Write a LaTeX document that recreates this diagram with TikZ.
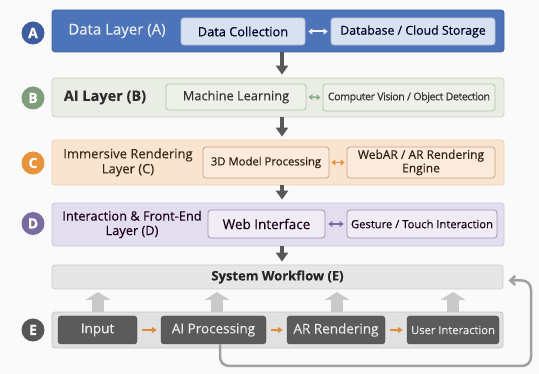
\documentclass[tikz,border=0pt]{standalone}
\usepackage{fontspec}
\setmainfont{Open Sans}[FakeBold=0.3]
\newfontfamily\medf{Open Sans}[FakeBold=0.35]
\usetikzlibrary{arrows.meta,calc}
\definecolor{bgc}{HTML}{FAFAFA}
\definecolor{aband}{HTML}{4D74B9}
\definecolor{aborder}{HTML}{3F62A3}
\definecolor{abox}{HTML}{D8E1F2}
\definecolor{acirc}{HTML}{3D5D9E}
\definecolor{bband}{HTML}{E9EDE5}
\definecolor{bborder}{HTML}{CDD5C6}
\definecolor{bbox}{HTML}{EEF1EA}
\definecolor{bboxb}{HTML}{B5BFAD}
\definecolor{bcirc}{HTML}{7E9E7A}
\definecolor{cband}{HTML}{F8E4D0}
\definecolor{cborder}{HTML}{EDCFB2}
\definecolor{cbox}{HTML}{FBEBDC}
\definecolor{cboxb}{HTML}{C9A284}
\definecolor{ccirc}{HTML}{E8923B}
\definecolor{dband}{HTML}{E3DEEE}
\definecolor{dborder}{HTML}{CBC3DD}
\definecolor{dbox}{HTML}{EFECF5}
\definecolor{dboxb}{HTML}{9A92B2}
\definecolor{dcirc}{HTML}{7A6BA0}
\definecolor{swc}{HTML}{E6E6E6}
\definecolor{swb}{HTML}{CDCDCD}
\definecolor{eband}{HTML}{E1E1E1}
\definecolor{eborder}{HTML}{C4C4C4}
\definecolor{ebox}{HTML}{5B5B5B}
\definecolor{ecirc}{HTML}{565656}
\definecolor{darr}{HTML}{585858}
\definecolor{uparr}{HTML}{C9C9C9}
\definecolor{oarr}{HTML}{E08A3A}
\definecolor{looparr}{HTML}{A0A0A0}
\tikzset{
  band/.style={rounded corners=3pt, line width=0.8pt, minimum width=452, inner sep=0pt},
  lbox/.style={rounded corners=3pt, line width=0.8pt, inner sep=1pt, align=center},
  circ/.style={circle, minimum size=23, inner sep=0pt, text=white, font=\fontsize{14}{14}\selectfont\bfseries},
  downarr/.style={draw=darr, line width=3.5pt, shorten >=3pt, -{Triangle[length=9pt,width=12pt]}},
  dbl/.style={line width=2pt, {Triangle[length=4pt,width=6pt]}-{Triangle[length=4pt,width=6pt]}},
  ebx/.style={rounded corners=3pt, fill=ebox, draw=ebox!80!black, text=white!92!black, minimum height=28, inner sep=0pt, font=\fontsize{13.5}{14}\selectfont},
  oarrow/.style={draw=oarr, line width=1.8pt, -{Triangle[length=5pt,width=6pt]}},
  uparrow/.style={draw=uparr, line width=12pt, -{Triangle[length=8pt,width=25pt]}},
}
\begin{document}
\begin{tikzpicture}[x=1pt,y=-1pt]
\useasboundingbox (0,0) rectangle (539,374);
\fill[bgc] (0,0) rectangle (539,374);
\coordinate (ax) at (282,0);

% Layer A
\node[band, fill=aband, draw=aborder, minimum height=42] (bA) at (278,31) {};
\node[circ, fill=acirc] (cA) at (33,33) {A};
\node[text=white!88!aband, font=\fontsize{15}{15}\selectfont] (tA) at (117,31) {Data Layer (A)};
\node[lbox, fill=abox, draw=abox!85!black, minimum width=124, minimum height=27, text=black!75!blue!60!black, font=\fontsize{12.8}{13}\selectfont] (dc) at (243,31.5) {Data Collection};
\node[lbox, fill=abox, draw=abox!85!black, minimum width=164, minimum height=27, text=black!75!blue!60!black, font=\fontsize{12.3}{13}\selectfont] (db) at (413,31.5) {Database / Cloud Storage};
\draw[dbl, draw=white!95!blue, fill=white!95!blue] ($(dc.east)+(3,0)$) -- ($(db.west)+(-3,0)$);

% Layer B
\node[band, fill=bband, draw=bborder, minimum height=39] (bB) at (278,97.5) {};
\node[circ, fill=bcirc] (cB) at (33,98) {B};
\node[text=black!82, font=\fontsize{14.5}{15}\selectfont\bfseries] (tB) at (105,97.5) {AI Layer (B)};
\node[lbox, fill=bbox, draw=bboxb, minimum width=140, minimum height=26, text=black!80, font=\fontsize{12.8}{13}\selectfont] (ml) at (236,97) {Machine Learning};
\node[lbox, fill=bbox, draw=bboxb, minimum width=172, minimum height=27, text=black!80, font=\fontsize{10.6}{11}\selectfont\addfontfeatures{LetterSpace=-4}] (cv) at (409,97.5) {Computer Vision / Object Detection};
\draw[dbl, draw=bcirc!85, line width=1.6pt] ($(ml.east)+(2,0)$) -- ($(cv.west)+(-2,0)$);

% Layer C
\node[band, fill=cband, draw=cborder, minimum height=45] (bC) at (278,162.5) {};
\node[circ, fill=ccirc] (cC) at (33,163) {C};
\node[align=center, text=black!60!brown!80!black, font=\fontsize{13}{15}\selectfont] (tC) at (128,162.5) {Immersive Rendering\\Layer (C)};
\node[lbox, fill=cbox, draw=cboxb, minimum width=126, minimum height=31, text=black!75!brown, font=\fontsize{11.3}{13}\selectfont] (md) at (266,162.5) {3D Model Processing};
\node[lbox, fill=cbox, draw=cboxb, minimum width=148, minimum height=31, text=black!75!brown, font=\fontsize{12}{13.5}\selectfont] (wa) at (421,162.5) {WebAR / AR Rendering\\Engine};
\draw[dbl, draw=ccirc, line width=1.6pt] ($(md.east)+(2,0)$) -- ($(wa.west)+(-2,0)$);

% Layer D
\node[band, fill=dband, draw=dborder, minimum height=43] (bD) at (278,224.5) {};
\node[circ, fill=dcirc] (cD) at (33,223.5) {D};
\node[align=center, text=black!65!violet!60!black, font=\fontsize{12.8}{14.5}\selectfont] (tD) at (132,224.5) {Interaction \& Front-End\\Layer (D)};
\node[lbox, fill=dbox, draw=dboxb, minimum width=117, minimum height=28, text=black!80!violet, font=\fontsize{13.5}{14}\medf] (wi) at (266.5,224) {Web Interface};
\node[lbox, fill=dbox, draw=dboxb, minimum width=150, minimum height=28, text=black!80!violet, font=\fontsize{11.2}{12}\selectfont] (gt) at (422,224) {Gesture / Touch Interaction};
\draw[dbl, draw=dcirc, line width=1.6pt] ($(wi.east)+(3,0)$) -- ($(gt.west)+(-3,0)$);

% System workflow
\node[band, fill=swc, draw=swb, minimum width=451, minimum height=24, text=black!85, font=\fontsize{13}{13}\selectfont\bfseries] (sw) at (277.5,277) {System Workflow (E)};

% down arrows
\draw[downarr] (bA.south -| ax) -- (bB.north -| ax);
\draw[downarr] (bB.south -| ax) -- (bC.north -| ax);
\draw[downarr] (bC.south -| ax) -- (bD.north -| ax);
\draw[downarr] (bD.south -| ax) -- (sw.north -| ax);

% Layer E
\node[band, fill=eband, draw=eborder, minimum width=451, minimum height=36] (bE) at (277.5,330) {};
\node[circ, fill=ecirc] (cE) at (33,330) {E};
\node[ebx, minimum width=79] (in) at (97.5,330) {Input};
\node[ebx, minimum width=105] (aip) at (213.5,330) {AI Processing};
\node[ebx, minimum width=98] (arr) at (336,330) {AR Rendering};
\node[ebx, minimum width=92, font=\fontsize{11.2}{12}\selectfont] (ui) at (453,330) {User Interaction};
\draw[oarrow] ($(in.east)+(5,0)$) -- ($(aip.west)+(-4,0)$);
\draw[oarrow] ($(aip.east)+(5,0)$) -- ($(arr.west)+(-4,0)$);
\draw[oarrow] ($(arr.east)+(5,0)$) -- ($(ui.west)+(-4,0)$);

% up arrows
\foreach \x in {98,217,337,453}{
  \draw[uparrow] (\x,312) -- (\x,292);
}

% loop
\coordinate (lp) at (531,366);
\draw[looparr, line width=2.5pt, rounded corners=9pt, -{Straight Barb[length=5pt,width=9pt]}]
  ($(aip.south)+(6.5,0)$) |- (lp) |- ($(sw.east)+(5,3.5)$);
\end{tikzpicture}
\end{document}
